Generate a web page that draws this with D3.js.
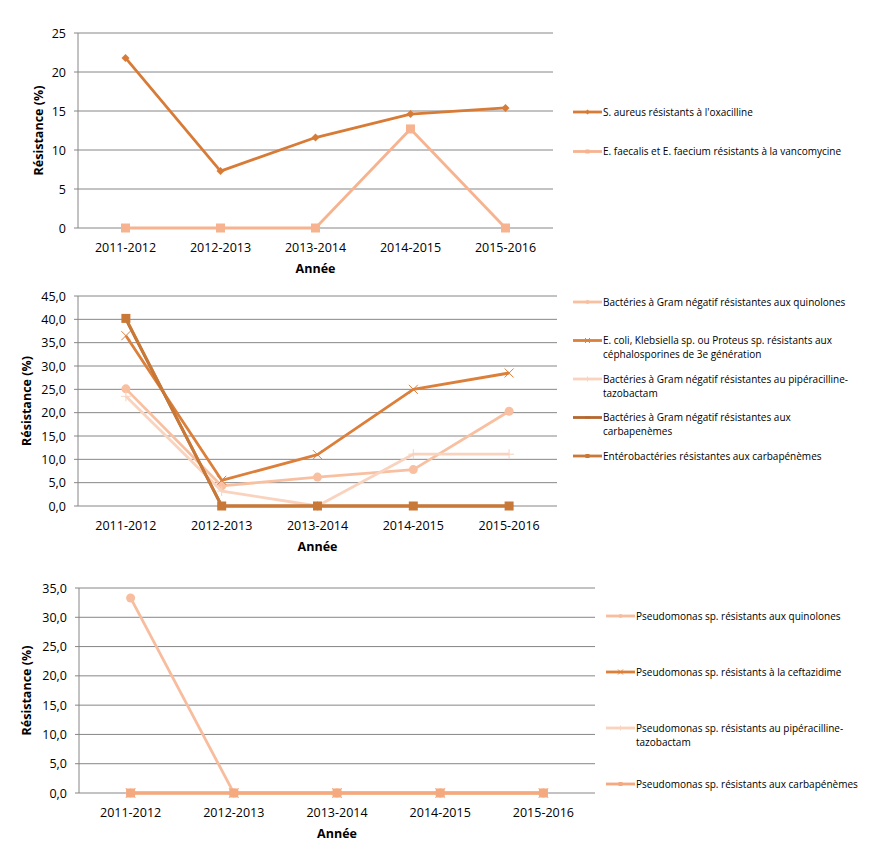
<!DOCTYPE html>
<html>
<head>
<meta charset="utf-8">
<script src="https://cdn.jsdelivr.net/npm/d3@7/dist/d3.min.js"></script>
<style>
body { margin: 0; background: #fff; }
text { font-family: "Open Sans", "Liberation Sans", sans-serif; fill: #000; }
</style>
</head>
<body>
<svg width="872" height="857"></svg>
<script>
// periods on the x axis
var years = ['2011-2012', '2012-2013', '2013-2014', '2014-2015', '2015-2016'];

// chart 1
var names1 = ["S. aureus résistants à l'oxacilline",
              "E. faecalis et E. faecium résistants à la vancomycine"];
var sAureus = [21.8, 7.3, 11.6, 14.6, 15.4];
var eFaecalis = [0, 0, 0, 12.7, 0];
var ticks1 = [0, 5, 10, 15, 20, 25];

// chart 2
var names2 = ["Bactéries à Gram négatif résistantes aux quinolones",
              "E. coli, Klebsiella sp. ou Proteus sp. résistants aux\ncéphalosporines de 3e génération",
              "Bactéries à Gram négatif résistantes au pipéracilline-\ntazobactam",
              "Bactéries à Gram négatif résistantes aux\ncarbapenèmes",
              "Entérobactéries résistantes aux carbapénèmes"];
var gramQuinolones = [25.1, 4.3, 6.2, 7.8, 20.3];
var ecoliCeph = [36.5, 5.5, 11.0, 25.0, 28.5];
var gramPipera = [23.5, 3.2, 0, 11.1, 11.1];
var gramCarba = [40.0, 0, 0, 0, 0];
var enteroCarba = [40.2, 0, 0, 0, 0];
var ticks2 = [0, 5, 10, 15, 20, 25, 30, 35, 40, 45];

// chart 3
var names3 = ["Pseudomonas sp. résistants aux quinolones",
              "Pseudomonas sp. résistants à la ceftazidime",
              "Pseudomonas sp. résistants au pipéracilline-\ntazobactam",
              "Pseudomonas sp. résistants aux carbapénèmes"];
var pseudoQuinolones = [33.3, 0, 0, 0, 0];
var pseudoCeftaz = [0, 0, 0, 0, 0];
var pseudoPipera = [0, 0, 0, 0, 0];
var pseudoCarba = [0, 0, 0, 0, 0];
var ticks3 = [0, 5, 10, 15, 20, 25, 30, 35];

var svg = d3.select('svg');

// draw one marker of a given kind at (0,0) inside g
function marker(g, kind, color, s) {
    if (kind == 'diamond') {
        g.append('path').attr('d', 'M0,' + (-s) + 'L' + s + ',0L0,' + s + 'L' + (-s) + ',0Z').attr('fill', color);
    } else if (kind == 'square') {
        g.append('rect').attr('x', -s).attr('y', -s).attr('width', 2 * s).attr('height', 2 * s).attr('fill', color);
    } else if (kind == 'circle') {
        g.append('circle').attr('r', s).attr('fill', color);
    } else if (kind == 'x') {
        g.append('path').attr('d', 'M' + (-s) + ',' + (-s) + 'L' + s + ',' + s + 'M' + (-s) + ',' + s + 'L' + s + ',' + (-s))
            .attr('stroke', color).attr('stroke-width', 1).attr('fill', 'none');
    } else if (kind == 'plus') {
        g.append('path').attr('d', 'M' + (-s) + ',0L' + s + ',0M0,' + (-s) + 'L0,' + s)
            .attr('stroke', color).attr('stroke-width', 1).attr('fill', 'none');
    } else if (kind == 'dash') {
        g.append('path').attr('d', 'M' + (-s) + ',0L' + s + ',0')
            .attr('stroke', color).attr('stroke-width', 2).attr('fill', 'none');
    }
}

function drawChart(cfg) {
    var x = d3.scaleBand().domain(years).range([cfg.left, cfg.right]);
    var y = d3.scaleLinear().domain([0, d3.max(cfg.ticks)]).range([cfg.bottom, cfg.top]);
    var g = svg.append('g');

    // gridlines
    g.selectAll('line.grid').data(cfg.ticks).enter().append('line')
        .attr('x1', cfg.left - 4).attr('x2', cfg.right)
        .attr('y1', function(d) { return y(d); }).attr('y2', function(d) { return y(d); })
        .attr('stroke', '#868686').attr('stroke-width', 1);
    g.append('line').attr('x1', cfg.left).attr('x2', cfg.left)
        .attr('y1', cfg.top).attr('y2', cfg.bottom)
        .attr('stroke', '#868686');

    // y tick labels
    g.selectAll('text.yt').data(cfg.ticks).enter().append('text')
        .attr('x', cfg.left - 12).attr('y', function(d) { return y(d) + 4.5; })
        .attr('text-anchor', 'end').attr('font-size', 12.5)
        .text(function(d) { return cfg.fmt(d); });
    // x tick labels
    g.selectAll('text.xl').data(years).enter().append('text')
        .attr('x', function(d) { return x(d) + x.bandwidth() / 2; })
        .attr('y', cfg.bottom + 24)
        .attr('text-anchor', 'middle').attr('font-size', 12.5)
        .text(function(d) { return d; });
    // axis titles
    g.append('text').attr('x', (cfg.left + cfg.right) / 2).attr('y', cfg.bottom + 45)
        .attr('text-anchor', 'middle').attr('font-size', 12.5).attr('font-weight', 'bold')
        .text('Année');
    g.append('text')
        .attr('transform', 'translate(' + cfg.titleX + ',' + ((cfg.top + cfg.bottom) / 2) + ') rotate(-90)')
        .attr('text-anchor', 'middle').attr('font-size', 12.5).attr('font-weight', 'bold')
        .text('Résistance (%)');

    var line = d3.line()
        .x(function(d, i) { return x(years[i]) + x.bandwidth() / 2; })
        .y(function(d) { return y(d); });

    cfg.series.forEach(function(s) {
        g.append('path').datum(s.values).attr('d', line)
            .attr('fill', 'none').attr('stroke', s.color).attr('stroke-width', 2.8)
            .attr('stroke-linejoin', 'round');
        s.values.forEach(function(v, i) {
            var m = g.append('g').attr('transform', 'translate(' + (x(years[i]) + x.bandwidth() / 2) + ',' + y(v) + ')');
            marker(m, s.kind, s.color, s.size);
        });
    });

    // legend
    cfg.series.forEach(function(s, k) {
        var ly = cfg.legendY + k * cfg.legendStep;
        g.append('line').attr('x1', cfg.legendX).attr('x2', cfg.legendX + 29)
            .attr('y1', ly).attr('y2', ly)
            .attr('stroke', s.color).attr('stroke-width', 2.8);
        var m = g.append('g').attr('transform', 'translate(' + (cfg.legendX + 14.5) + ',' + ly + ')');
        marker(m, s.kind, s.color, s.kind == 'circle' || s.kind == 'square' ? 2 : 2.5);
        var t = g.append('text').attr('x', cfg.legendX + 30).attr('y', ly + 3.5)
            .attr('font-size', 10);
        s.name.split('\n').forEach(function(part, j) {
            t.append('tspan').attr('x', cfg.legendX + 30).attr('dy', j == 0 ? 0 : 14).text(part);
        });
    });
}

var intFmt = function(d) { return d3.format('d')(d); };
var decFmt = function(d) { return d3.format('.1f')(d).replace('.', ','); };

drawChart({
    left: 78, right: 553, top: 33, bottom: 228, titleX: 43,
    ticks: ticks1, fmt: intFmt,
    legendX: 573, legendY: 112, legendStep: 39.5,
    series: [
        { name: names1[0], values: sAureus, color: '#D87B36', kind: 'diamond', size: 4 },
        { name: names1[1], values: eFaecalis, color: '#F7B38F', kind: 'square', size: 4.5 }
    ]
});

drawChart({
    left: 78, right: 557, top: 296, bottom: 506, titleX: 31,
    ticks: ticks2, fmt: decFmt,
    legendX: 573, legendY: 302, legendStep: 38.5,
    series: [
        { name: names2[0], values: gramQuinolones, color: '#F8C0A1', kind: 'circle', size: 4.5 },
        { name: names2[1], values: ecoliCeph, color: '#DC7F3A', kind: 'x', size: 4.5 },
        { name: names2[2], values: gramPipera, color: '#F9D3BE', kind: 'plus', size: 5 },
        { name: names2[3], values: gramCarba, color: '#B5672E', kind: 'dash', size: 4 },
        { name: names2[4], values: enteroCarba, color: '#C97937', kind: 'square', size: 4.5 }
    ]
});

drawChart({
    left: 79, right: 595, top: 588, bottom: 793, titleX: 31,
    ticks: ticks3, fmt: decFmt,
    legendX: 606, legendY: 616, legendStep: 56,
    series: [
        { name: names3[0], values: pseudoQuinolones, color: '#F8BD9E', kind: 'circle', size: 4.5 },
        { name: names3[1], values: pseudoCeftaz, color: '#DC7F3A', kind: 'x', size: 4.5 },
        { name: names3[2], values: pseudoPipera, color: '#F9D3BE', kind: 'plus', size: 5 },
        { name: names3[3], values: pseudoCarba, color: '#F5A97F', kind: 'square', size: 4.5 }
    ]
});
</script>
</body>
</html>
